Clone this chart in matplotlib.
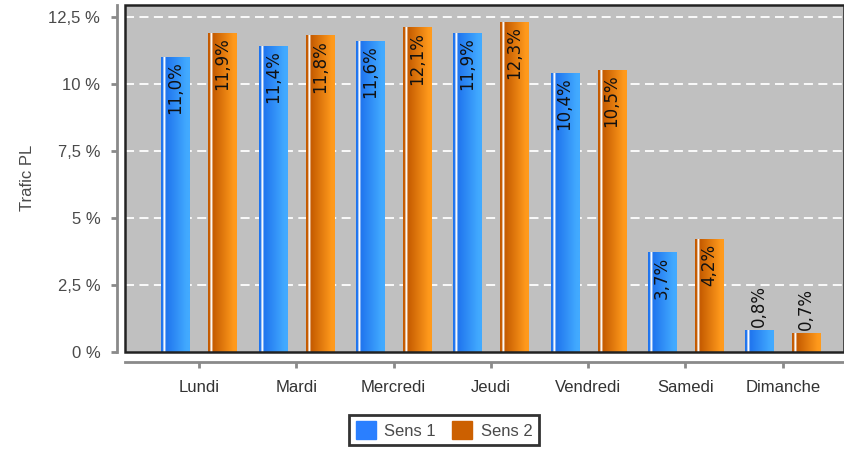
import numpy as np
import matplotlib.pyplot as plt
from matplotlib.colors import LinearSegmentedColormap
from matplotlib.patches import Rectangle, Patch

# Part du trafic PL par jour de la semaine
jours = ['Lundi', 'Mardi', 'Mercredi', 'Jeudi', 'Vendredi', 'Samedi', 'Dimanche']
sens1 = [11.0, 11.4, 11.6, 11.9, 10.4, 3.7, 0.8]
sens2 = [11.9, 11.8, 12.1, 12.3, 10.5, 4.2, 0.7]
y_ticks = [0, 2.5, 5, 7.5, 10, 12.5]
y_tick_labels = ['0 %', '2,5 %', '5 %', '7,5 %', '10 %', '12,5 %']

axis_font = 'Liberation Sans'
txt_gray = '#4a4a4a'
line_gray = '#8a8a8a'


def bar_cmap(dark, light):
    # reflet blanc sur le bord gauche puis dégradé foncé -> clair
    return LinearSegmentedColormap.from_list('b', [
        (0.00, dark), (0.06, dark), (0.09, 'white'), (0.13, 'white'),
        (0.16, dark), (0.90, light), (1.00, light)])


cm_blue = bar_cmap('#1f74ee', '#42aaff')
cm_orange = bar_cmap('#c45a00', '#ff9a1c')
grad = np.linspace(0, 1, 64).reshape(1, -1)

fig = plt.figure(figsize=(8.44, 4.49), dpi=100)
ax = fig.add_axes([125 / 844, 1 - 352 / 449, 719 / 844, 347 / 449])
ax.set_facecolor('#c0c0c0')

width = 0.288
offset = 0.2415
x = np.arange(len(jours))

for vals, cmap, dx in [(sens1, cm_blue, -offset), (sens2, cm_orange, offset)]:
    for xi, v in zip(x, vals):
        x0, x1 = xi + dx - width / 2, xi + dx + width / 2
        ax.imshow(grad, cmap=cmap, extent=[x0, x1, 0, v], aspect='auto',
                  interpolation='bilinear', zorder=3)
        lab = f'{v:.1f}%'.replace('.', ',')
        if v > 2:
            ax.text(xi + dx, v - 0.15, lab, rotation=90, ha='center', va='top',
                    fontsize=12, color='#111111', zorder=4)
        else:
            ax.text(xi + dx, v + 0.12, lab, rotation=90, ha='center', va='bottom',
                    fontsize=12, color='#111111', zorder=4)

ax.set_xlim(-0.76, 6.63)
ax.set_ylim(0, 12.95)

# grille
for yv in y_ticks[1:]:
    ax.axhline(yv, color='white', lw=1.3, ls=(0, (5, 3)), zorder=1)

# cadre de la zone de tracé
ax.add_patch(Rectangle((0, 0), 1, 1, transform=ax.transAxes, fill=False,
                       ec='#222222', lw=1.8, zorder=5, clip_on=False))

for s in ['top', 'right']:
    ax.spines[s].set_visible(False)
ax.spines['left'].set_position(('outward', 5.8))
ax.spines['bottom'].set_position(('outward', 7.2))
for s in ['left', 'bottom']:
    ax.spines[s].set_color(line_gray)
    ax.spines[s].set_linewidth(2)

ax.set_yticks(y_ticks)
ax.set_yticklabels(y_tick_labels, fontfamily=axis_font, fontsize=12, color=txt_gray)
ax.set_xticks(x)
ax.set_xticklabels(jours, fontfamily=axis_font, fontsize=12, color='#333333')
ax.tick_params(axis='y', length=4, width=2, color=line_gray, pad=8)
ax.tick_params(axis='x', length=4, width=2, color=line_gray, pad=9)

fig.text(28 / 844, 1 - 178 / 449, 'Trafic PL', rotation=90, ha='center', va='center',
         fontfamily=axis_font, fontsize=12, color=txt_gray)

handles = [Patch(fc='#2a7fff', ec='#2a7fff'), Patch(fc='#cc6000', ec='#cc6000')]
leg = fig.legend(handles, ['Sens 1', 'Sens 2'], loc='center',
                 bbox_to_anchor=(444 / 844, 1 - 430 / 449), ncol=2,
                 prop={'family': axis_font, 'size': 12}, frameon=True,
                 fancybox=False, edgecolor='black', handlelength=1.2,
                 handleheight=1.2, handletextpad=0.5, columnspacing=1.0,
                 borderpad=0.4)
leg.get_frame().set_linewidth(2)
for t in leg.get_texts():
    t.set_color(txt_gray)

fig.savefig('out.png', dpi=100)
